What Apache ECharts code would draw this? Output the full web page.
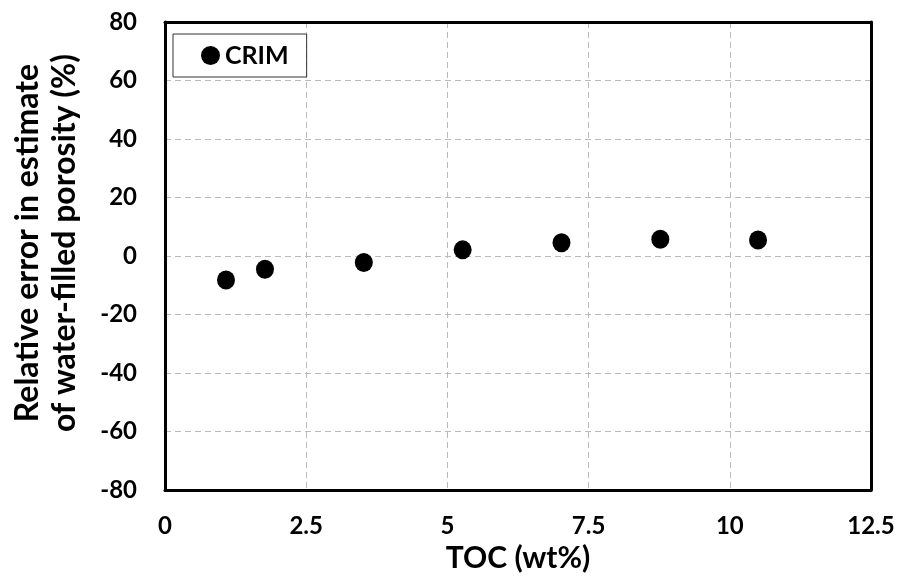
<!DOCTYPE html>
<html><head><meta charset="utf-8">
<script src="https://cdn.jsdelivr.net/npm/echarts@6/dist/echarts.min.js"></script>
<style>html,body{margin:0;padding:0;background:#fff}#c{width:902px;height:580px}</style>
</head><body><div id="c"></div>
<script>
const seriesName = 'CRIM';
const tocValues = [1.08, 1.77, 3.52, 5.27, 7.02, 8.77, 10.5];
const errorValues = [-8.2, -4.5, -2.2, 2.1, 4.5, 5.7, 5.5];
const xTicks = [0, 2.5, 5, 7.5, 10, 12.5];
const yTicks = [-80, -60, -40, -20, 0, 20, 40, 60, 80];
const xTitle = 'TOC (wt%)';
const yTitle = 'Relative error in estimate\nof water-filled porosity (%)';

const font = 'Lato, "Open Sans", sans-serif';
const split = {show: true, showMinLine: false, showMaxLine: false, lineStyle: {color: '#bbb', type: [6, 4], width: 1}};
const frame = {show: true, onZero: false, lineStyle: {color: '#000', width: 3}};
const chart = echarts.init(document.getElementById('c'));
chart.setOption({
  animation: false,
  backgroundColor: '#fff',
  grid: {left: 165, top: 22, width: 706, height: 468, outerBoundsMode: 'none', containLabel: false},
  legend: {
    left: 173, top: 34, orient: 'vertical',
    data: [seriesName],
    borderColor: '#333', borderWidth: 1, borderRadius: 0,
    padding: [9, 18, 9, 28],
    itemWidth: 19, itemHeight: 19, itemGap: 0,
    icon: 'circle',
    itemStyle: {color: '#000', opacity: 1},
    textStyle: {fontFamily: font, fontWeight: 'bold', fontSize: 25, color: '#000'}
  },
  xAxis: [{
    type: 'value', min: xTicks[0], max: xTicks[xTicks.length-1], interval: 2.5,
    name: xTitle, nameLocation: 'middle', nameGap: 51,
    nameTextStyle: {fontFamily: font, fontWeight: 'bold', fontSize: 30, color: '#000'},
    axisLine: frame, axisTick: {show: false},
    axisLabel: {fontFamily: font, fontWeight: 'bold', fontSize: 24, color: '#000', margin: 24},
    splitLine: split
  }, {
    type: 'value', position: 'top', min: xTicks[0], max: xTicks[xTicks.length-1], interval: 2.5,
    axisLine: frame, axisTick: {show: false}, axisLabel: {show: false}, splitLine: {show: false}
  }],
  yAxis: [{
    type: 'value', min: yTicks[0], max: yTicks[yTicks.length-1], interval: 20,
    name: yTitle, nameLocation: 'middle', nameGap: 82,
    nameTextStyle: {fontFamily: font, fontWeight: 'bold', fontSize: 32, color: '#000', lineHeight: 37, padding: [0, 0, 0, 26]},
    axisLine: frame, axisTick: {show: false},
    axisLabel: {fontFamily: font, fontWeight: 'bold', fontSize: 24, color: '#000', margin: 28},
    splitLine: split
  }, {
    type: 'value', position: 'right', min: yTicks[0], max: yTicks[yTicks.length-1], interval: 20,
    axisLine: frame, axisTick: {show: false}, axisLabel: {show: false}, splitLine: {show: false}
  }],
  series: [{
    name: seriesName, type: 'scatter',
    data: tocValues.map((x, i) => [x, errorValues[i]]),
    symbol: 'circle', symbolSize: [18, 19],
    itemStyle: {color: '#000', opacity: 1}
  }]
});
</script></body></html>
